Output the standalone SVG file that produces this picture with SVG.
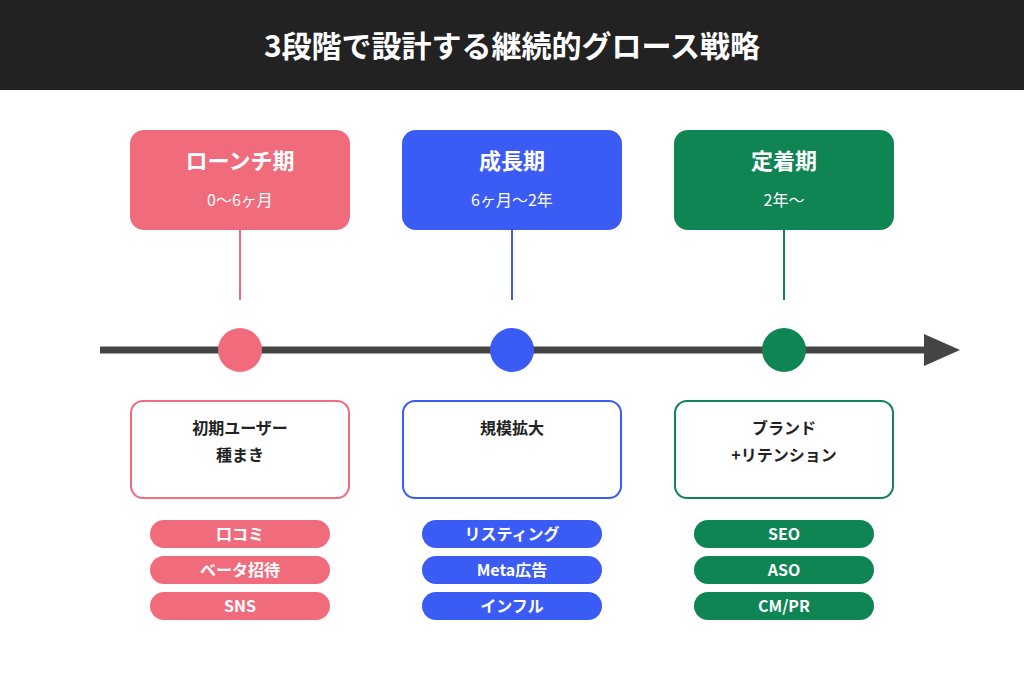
<svg xmlns="http://www.w3.org/2000/svg" width="1024" height="683" viewBox="0 0 1024 683">
<style>
text{font-family:"Noto Sans CJK JP","Noto Sans",sans-serif;text-anchor:middle;font-weight:bold}
.t{fill:#fff;font-size:22px}.s{fill:#fff;font-size:16px;font-weight:normal}
.d{fill:#222;font-size:16px}.p{fill:#fff;font-size:16px}
.lb{fill:#fff;stroke-width:2}
</style>
<rect width="1024" height="683" fill="#fff"/>
<rect width="1024" height="90" fill="#222"/>
<text x="512" y="57" fill="#fff" font-size="30">3段階で設計する継続的グロース戦略</text>
<g id="connectors">
<line x1="100" y1="350" x2="925" y2="350" stroke="#444" stroke-width="7"/>
<path d="M924 334L960 350L924 366Z" fill="#444"/>
<line x1="240" y1="230" x2="240" y2="300" stroke="#F06C7C" stroke-width="2"/>
<line x1="512" y1="230" x2="512" y2="300" stroke="#3B5BF5" stroke-width="2"/>
<line x1="784" y1="230" x2="784" y2="300" stroke="#0E8553" stroke-width="2"/>
</g>
<g id="launch">
<rect x="130" y="130" width="220" height="100" rx="14" fill="#F06C7C"/>
<text class="t" x="240" y="169">ローンチ期</text><text class="s" x="240" y="206">0〜6ヶ月</text>
<circle cx="240" cy="350" r="22" fill="#F06C7C"/>
<rect class="lb" x="131" y="401" width="218" height="97" rx="12" stroke="#F06C7C"/>
<text class="d" x="240" y="434">初期ユーザー</text><text class="d" x="240" y="461">種まき</text>
<rect x="150" y="520" width="180" height="28" rx="14" fill="#F06C7C"/><text class="p" x="240" y="540">口コミ</text>
<rect x="150" y="556" width="180" height="28" rx="14" fill="#F06C7C"/><text class="p" x="240" y="576">ベータ招待</text>
<rect x="150" y="592" width="180" height="28" rx="14" fill="#F06C7C"/><text class="p" x="240" y="612">SNS</text>
</g>
<g id="growth">
<rect x="402" y="130" width="220" height="100" rx="14" fill="#3B5BF5"/>
<text class="t" x="512" y="169">成長期</text><text class="s" x="512" y="206">6ヶ月〜2年</text>
<circle cx="512" cy="350" r="22" fill="#3B5BF5"/>
<rect class="lb" x="403" y="401" width="218" height="97" rx="12" stroke="#3B5BF5"/>
<text class="d" x="512" y="434">規模拡大</text>
<rect x="422" y="520" width="180" height="28" rx="14" fill="#3B5BF5"/><text class="p" x="512" y="540">リスティング</text>
<rect x="422" y="556" width="180" height="28" rx="14" fill="#3B5BF5"/><text class="p" x="512" y="576">Meta広告</text>
<rect x="422" y="592" width="180" height="28" rx="14" fill="#3B5BF5"/><text class="p" x="512" y="612">インフル</text>
</g>
<g id="mature">
<rect x="674" y="130" width="220" height="100" rx="14" fill="#0E8553"/>
<text class="t" x="784" y="169">定着期</text><text class="s" x="784" y="206">2年〜</text>
<circle cx="784" cy="350" r="22" fill="#0E8553"/>
<rect class="lb" x="675" y="401" width="218" height="97" rx="12" stroke="#0E8553"/>
<text class="d" x="784" y="434">ブランド</text><text class="d" x="784" y="461">+リテンション</text>
<rect x="694" y="520" width="180" height="28" rx="14" fill="#0E8553"/><text class="p" x="784" y="540">SEO</text>
<rect x="694" y="556" width="180" height="28" rx="14" fill="#0E8553"/><text class="p" x="784" y="576">ASO</text>
<rect x="694" y="592" width="180" height="28" rx="14" fill="#0E8553"/><text class="p" x="784" y="612">CM/PR</text>
</g>
</svg>
